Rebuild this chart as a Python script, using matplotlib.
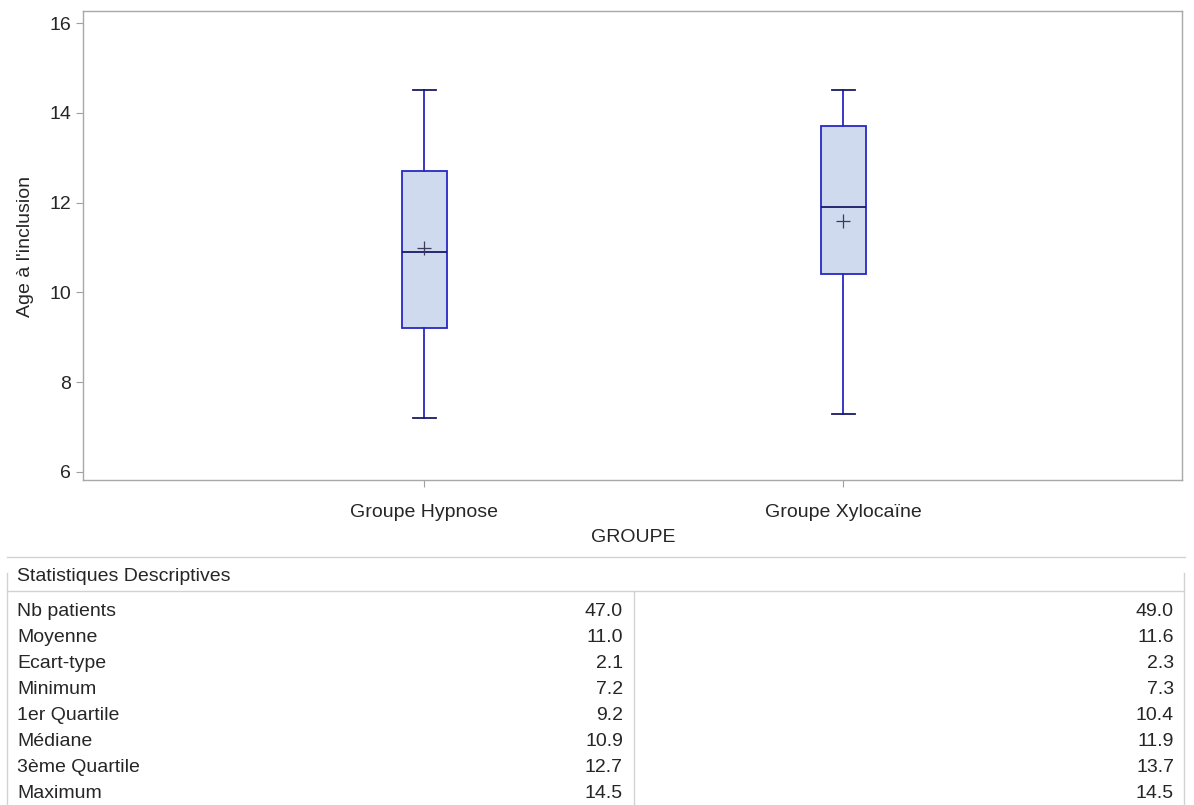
import matplotlib
matplotlib.use("Agg")
import matplotlib.pyplot as plt
from matplotlib.lines import Line2D

plt.rcParams['font.family'] = ['Liberation Sans', 'DejaVu Sans']

# ---------------- data ----------------
groups = ["Groupe Hypnose", "Groupe Xylocaïne"]
n_patients = [47.0, 49.0]
moyenne = [11.0, 11.6]
ecart_type = [2.1, 2.3]
minimum = [7.2, 7.3]
q1 = [9.2, 10.4]
mediane = [10.9, 11.9]
q3 = [12.7, 13.7]
maximum = [14.5, 14.5]
stat_labels = ["Nb patients", "Moyenne", "Ecart-type", "Minimum",
               "1er Quartile", "Médiane", "3ème Quartile", "Maximum"]
yticks = [6, 8, 10, 12, 14, 16]
ylabel = "Age à l'inclusion"
xlabel = "GROUPE"
table_title = "Statistiques Descriptives"

W, H = 1194, 805
FS = 14
TXT = '#262626'
fig = plt.figure(figsize=(W / 100, H / 100), dpi=100)


def fx(px):
    return px / W


def fy(py):
    return 1 - py / H


# ---------------- box plot ----------------
ax_l, ax_r, ax_t, ax_b = 83, 1182, 11, 480
ax = fig.add_axes([fx(ax_l), fy(ax_b), fx(ax_r - ax_l), (ax_b - ax_t) / H])

stats = []
for i, g in enumerate(groups):
    stats.append(dict(label=g, mean=moyenne[i], med=mediane[i], q1=q1[i], q3=q3[i],
                      whislo=minimum[i], whishi=maximum[i], fliers=[]))

edge = '#2828c4'
dark = '#1a1a66'
ax.bxp(stats, positions=[0, 1], widths=0.107, capwidths=0.057,
       showmeans=True, patch_artist=True,
       boxprops=dict(facecolor='#cfdaee', edgecolor=edge, linewidth=1.3),
       whiskerprops=dict(color=edge, linewidth=1.3),
       capprops=dict(color=dark, linewidth=1.3),
       medianprops=dict(color=dark, linewidth=1.3),
       meanprops=dict(marker='+', markeredgecolor='#3a3a5a', markersize=10,
                      markeredgewidth=0.9, linestyle='none'))

ax.set_xlim(-0.815, 1.808)
ax.set_ylim(5.82, 16.27)
ax.set_yticks(yticks)
ax.set_xticks([0, 1])
ax.set_xticklabels(groups)
for s in ax.spines.values():
    s.set_color('#a8a8a8')
    s.set_linewidth(1.0)
ax.tick_params(axis='both', colors='#a0a0a0', labelcolor=TXT,
               labelsize=FS, length=5, width=0.8)
ax.tick_params(axis='x', pad=12)

fig.text(fx(25), fy(246), ylabel, rotation=90, ha='center', va='center',
         fontsize=FS, color=TXT)
fig.text(fx(633), fy(538), xlabel, ha='center', va='center',
         fontsize=FS, color=TXT)

# ---------------- table ----------------
line_col = '#d2d2d2'


def hline(y, x0, x1, c=line_col):
    fig.add_artist(Line2D([fx(x0), fx(x1)], [fy(y), fy(y)], color=c, linewidth=1.0))


def vline(x, y0, y1, c=line_col):
    fig.add_artist(Line2D([fx(x), fx(x)], [fy(y0), fy(y1)], color=c, linewidth=1.0))


hline(557, 7, 1185)
hline(591, 7, 1184)
vline(7, 573, 805)
vline(1184, 573, 805)
vline(634, 591, 805)

fig.text(fx(17), fy(576), table_title, ha='left', va='center',
         fontsize=FS, color=TXT)

columns = [n_patients, moyenne, ecart_type, minimum, q1, mediane, q3, maximum]
row_y0, row_dy = 611, 26
for r, (lab, vals) in enumerate(zip(stat_labels, columns)):
    y = row_y0 + r * row_dy
    fig.text(fx(17), fy(y), lab, ha='left', va='center', fontsize=FS, color=TXT)
    fig.text(fx(623), fy(y), f"{vals[0]:.1f}", ha='right', va='center',
             fontsize=FS, color=TXT)
    fig.text(fx(1174), fy(y), f"{vals[1]:.1f}", ha='right', va='center',
             fontsize=FS, color=TXT)

fig.savefig("out.png", dpi=100)
